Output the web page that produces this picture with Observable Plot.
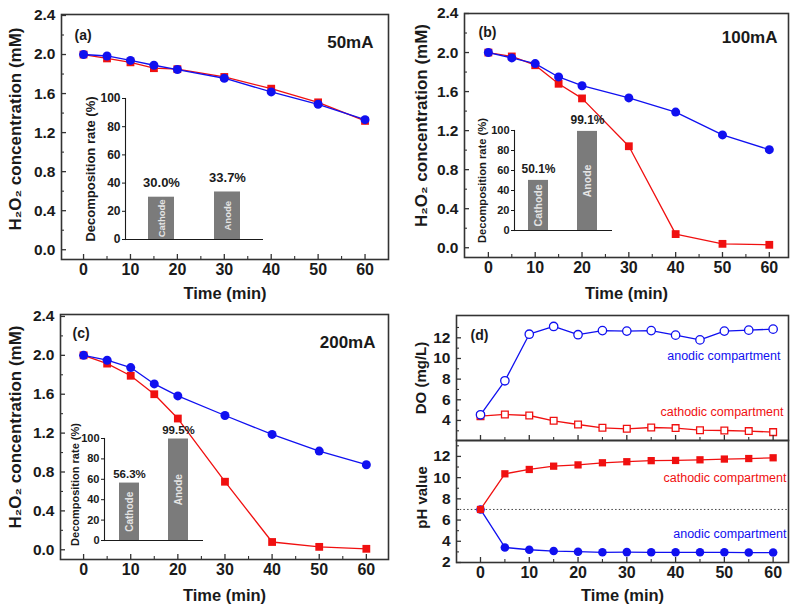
<!DOCTYPE html>
<html><head><meta charset="utf-8">
<script src="https://cdn.jsdelivr.net/npm/d3@7"></script>
<script src="https://cdn.jsdelivr.net/npm/@observablehq/plot@0.6"></script>
<style>
body{margin:0;background:#fff}
#root{position:relative;width:800px;height:610px;overflow:hidden;background:#fff}
</style></head><body><div id="root"></div>
<script>
// ---------- data ----------
const timeH2O2 = [0, 5, 10, 15, 20, 30, 40, 50, 60];
const aSquare = [2.0, 1.96, 1.92, 1.86, 1.85, 1.77, 1.65, 1.51, 1.32];
const aCircle = [2.0, 1.985, 1.94, 1.89, 1.846, 1.757, 1.617, 1.49, 1.333];
const bSquare = [2.0, 1.96, 1.87, 1.68, 1.53, 1.04, 0.14, 0.04, 0.03];
const bCircle = [2.0, 1.945, 1.887, 1.75, 1.66, 1.535, 1.39, 1.156, 1.005];
const cSquare = [2.0, 1.915, 1.79, 1.6, 1.35, 0.70, 0.08, 0.03, 0.01];
const cCircle = [2.0, 1.95, 1.874, 1.706, 1.583, 1.381, 1.187, 1.015, 0.875];

const insetCats = ["Cathode", "Anode"];
const insetA = [30.0, 33.7];
const insetB = [50.1, 99.1];
const insetC = [56.3, 99.5];

const timeD = [0, 5, 10, 15, 20, 25, 30, 35, 40, 45, 50, 55, 60];
const doAnodic = [4.55, 7.84, 12.35, 13.1, 12.3, 12.7, 12.65, 12.7, 12.26, 11.8, 12.65, 12.74, 12.84];
const doCathodic = [4.42, 4.58, 4.48, 3.97, 3.61, 3.29, 3.19, 3.32, 3.26, 3.06, 3.03, 2.97, 2.87];
const phCathodic = [7.0, 10.36, 10.77, 11.08, 11.2, 11.4, 11.5, 11.6, 11.62, 11.68, 11.75, 11.8, 11.87];
const phAnodic = [7.0, 3.42, 3.2, 3.08, 3.02, 2.96, 2.98, 2.96, 2.96, 2.96, 2.96, 2.94, 2.94];
const phNeutral = [7];

const xTicks = [0, 10, 20, 30, 40, 50, 60];
const xMinor = [5, 15, 25, 35, 45, 55];
const yTicksH = [0, 0.4, 0.8, 1.2, 1.6, 2.0, 2.4];
const yMinorH = [0.2, 0.6, 1.0, 1.4, 1.8, 2.2];
const yTicksDO = [4, 6, 8, 10, 12];
const yMinorDO = [3, 5, 7, 9, 11, 13];
const yTicksPH = [2, 4, 6, 8, 10, 12];
const yMinorPH = [3, 5, 7, 9, 11, 13];
const insetTicks = [0, 20, 40, 60, 80, 100];

const xLabel = "Time (min)";
const yLabelH = "H\u2082O\u2082 concentration (mM)";
const insetLabel = "Decomposition rate (%)";
const doLabel = "DO (mg/L)";
const phLabel = "pH value";
const anodicText = "anodic compartment";
const cathodicText = "cathodic compartment";

// ---------- styling ----------
const FONT = "'Liberation Sans', Arial, Helvetica, sans-serif";
const INK = "#1a1a1a";
const FRAME = "#333";
const RED = "#f01010";
const BLUE = "#1010f0";
const GRAY = "#7b7b7b";
const XTICK = 16, YTICK = 15.5;

const root = document.getElementById("root");
function put(el, left, top) {
  el.style.position = "absolute";
  el.style.left = left + "px";
  el.style.top = top + "px";
  root.appendChild(el);
}
const rows = (t, v) => t.map((x, i) => ({t: x, v: v[i]}));

// text anchored on the frame, centred on its point unless told otherwise
function label(str, frameAnchor, opts) {
  return Plot.text([str], {frameAnchor, text: d => d, textAnchor: "middle", lineAnchor: "middle", fontWeight: "bold", fill: INK, ...opts});
}

function tickMarks(xMaj, xMin, yMaj, yMin, plotW, plotH, showX = true) {
  const m = [];
  if (showX) {
    m.push(Plot.tickX(xMaj, {x: d => d, insetTop: plotH - 5, stroke: FRAME, strokeWidth: 1.3}));
    m.push(Plot.tickX(xMin, {x: d => d, insetTop: plotH - 3, stroke: FRAME, strokeWidth: 1.1}));
  }
  m.push(Plot.tickY(yMaj, {y: d => d, insetRight: plotW - 5, stroke: FRAME, strokeWidth: 1.3}));
  m.push(Plot.tickY(yMin, {y: d => d, insetRight: plotW - 3, stroke: FRAME, strokeWidth: 1.1}));
  return m;
}

function h2o2Panel(p) {
  const plotW = p.width - p.mL - p.mR, plotH = p.height - p.mT - p.mB;
  const sq = rows(timeH2O2, p.sq), ci = rows(timeH2O2, p.ci);
  return Plot.plot({
    width: p.width, height: p.height,
    marginLeft: p.mL, marginRight: p.mR, marginTop: p.mT, marginBottom: p.mB,
    style: {fontFamily: FONT, background: "transparent", overflow: "visible", color: INK},
    x: {domain: p.xDomain},
    y: {domain: p.yDomain},
    marks: [
      Plot.line(sq, {x: "t", y: "v", stroke: RED, strokeWidth: 1.3}),
      Plot.line(ci, {x: "t", y: "v", stroke: BLUE, strokeWidth: 1.3}),
      Plot.dot(sq, {x: "t", y: "v", symbol: "square", fill: RED, r: 4.4}),
      Plot.dot(ci, {x: "t", y: "v", symbol: "circle", fill: BLUE, r: 4.5}),
      ...tickMarks(xTicks, xMinor, yTicksH, yMinorH, plotW, plotH),
      Plot.axisX(xTicks, {tickSize: 0, tickPadding: 4, fontSize: XTICK, fontWeight: "bold", fill: INK, label: null}),
      Plot.axisY(yTicksH, {tickSize: 0, tickPadding: 6, fontSize: YTICK, fontWeight: "bold", fill: INK, tickFormat: d3.format(".1f"), label: null}),
      Plot.frame({stroke: FRAME, strokeWidth: 1.6}),
      label(xLabel, "bottom", {dy: p.xLabDy, fontSize: 16.5}),
      label(yLabelH, "left", {rotate: -90, dx: p.yLabDx, dy: p.yLabDy, fontSize: 17}),
      label(p.tag, "top-left", {textAnchor: "start", dx: p.tagDx, dy: p.tagDy, fontSize: 14}),
      label(p.current, "top-right", {textAnchor: "end", dx: p.curDx, dy: p.curDy, fontSize: 17})
    ]
  });
}

function insetPanel(p) {
  const data = insetCats.map((c, i) => ({cat: c, v: p.values[i]}));
  return Plot.plot({
    width: p.width, height: p.height,
    marginLeft: p.mL, marginRight: p.mR, marginTop: p.mT, marginBottom: p.mB,
    style: {fontFamily: FONT, background: "transparent", overflow: "visible", color: INK},
    x: {type: "band", domain: insetCats, paddingInner: p.pIn, paddingOuter: p.pOut, axis: null},
    y: {domain: [0, 100]},
    marks: [
      Plot.barY(data, {x: "cat", y: "v", fill: GRAY}),
      Plot.text(data, {x: "cat", y: d => d.v / 2, text: "cat", rotate: -90, fill: "#e4e4e4", fontSize: p.catSize, fontWeight: "bold"}),
      Plot.text(data, {x: "cat", y: "v", text: d => d.v.toFixed(1) + "%", dy: p.valDy, fontSize: p.valSize, fontWeight: "bold", fill: INK}),
      Plot.axisY(insetTicks, {tickSize: 3, tickPadding: 2, fontSize: p.tickSize, fontWeight: "bold", fill: INK, stroke: INK, label: null}),
      Plot.ruleY([0], {stroke: INK, strokeWidth: 1.1}),
      Plot.frame({anchor: "left", stroke: INK, strokeWidth: 1.1}),
      label(insetLabel, "left", {rotate: -90, dx: p.labDx, dy: p.labDy, fontSize: p.labSize})
    ]
  });
}

// ---------- panels a, b, c ----------
put(h2o2Panel({width: 400, height: 305, mL: 61, mR: 12, mT: 14, mB: 46,
  xDomain: [-4.7, 65], yDomain: [-0.1, 2.41], sq: aSquare, ci: aCircle,
  xLabDy: 34, yLabDx: -46, yLabDy: -8, tag: "(a)", tagDx: 13, tagDy: 21, current: "50mA", curDx: -15, curDy: 28}), 0, 0);

put(h2o2Panel({width: 400, height: 305, mL: 64, mR: 12, mT: 13, mB: 48,
  xDomain: [-5.1, 64.1], yDomain: [-0.1, 2.4], sq: bSquare, ci: bCircle,
  xLabDy: 36, yLabDx: -43, yLabDy: -10, tag: "(b)", tagDx: 14, tagDy: 19, current: "100mA", curDx: -11, curDy: 24}), 400, 0);

put(h2o2Panel({width: 400, height: 310, mL: 60, mR: 12, mT: 14, mB: 51,
  xDomain: [-4.9, 64.7], yDomain: [-0.1, 2.42], sq: cSquare, ci: cCircle,
  xLabDy: 36, yLabDx: -45, yLabDy: -10, tag: "(c)", tagDx: 12, tagDy: 19, current: "200mA", curDx: -13, curDy: 28}), 0, 300);

// ---------- insets ----------
put(insetPanel({width: 200, height: 165, mL: 55, mR: 7, mT: 13, mB: 11, values: insetA,
  pIn: 0.6, pOut: 0.33, catSize: 9.5, valSize: 13, valDy: -14, tickSize: 12, labDx: -35, labDy: 0, labSize: 13}), 70, 85);

put(insetPanel({width: 147, height: 140, mL: 44, mR: 5, mT: 30, mB: 10, values: insetB,
  pIn: 0.59, pOut: 0.29, catSize: 10.5, valSize: 12, valDy: -11, tickSize: 11, labDx: -32, labDy: 0, labSize: 11.2}), 470, 100);

put(insetPanel({width: 147, height: 145, mL: 44, mR: 4, mT: 33, mB: 10, values: insetC,
  pIn: 0.59, pOut: 0.29, catSize: 10, valSize: 11.5, valDy: -9, tickSize: 11, labDx: -29, labDy: -5, labSize: 11}), 60, 405);

// ---------- panel d ----------
const xDomainD = [-4.92, 63.15];
{
  const W = 400, H = 141, mL = 56, mR = 12, mT = 15, mB = 1;
  const plotW = W - mL - mR, plotH = H - mT - mB;
  const an = rows(timeD, doAnodic), ca = rows(timeD, doCathodic);
  put(Plot.plot({
    width: W, height: H, marginLeft: mL, marginRight: mR, marginTop: mT, marginBottom: mB,
    style: {fontFamily: FONT, background: "transparent", overflow: "visible", color: INK},
    x: {domain: xDomainD, axis: null},
    y: {domain: [2.06, 14.16]},
    marks: [
      Plot.line(ca, {x: "t", y: "v", stroke: RED, strokeWidth: 1.3}),
      Plot.line(an, {x: "t", y: "v", stroke: BLUE, strokeWidth: 1.3}),
      Plot.dot(ca, {x: "t", y: "v", symbol: "square", fill: "white", stroke: RED, strokeWidth: 1.3, r: 3.8}),
      Plot.dot(an, {x: "t", y: "v", symbol: "circle", fill: "white", stroke: BLUE, strokeWidth: 1.3, r: 4.2}),
      ...tickMarks(xTicks, xMinor, yTicksDO, yMinorDO, plotW, plotH),
      Plot.axisY(yTicksDO, {tickSize: 0, tickPadding: 6, fontSize: YTICK, fontWeight: "bold", fill: INK, label: null}),
      Plot.frame({stroke: FRAME, strokeWidth: 1.6}),
      label(doLabel, "left", {rotate: -90, dx: -35, fontSize: 15}),
      label("(d)", "top-left", {textAnchor: "start", dx: 14, dy: 20, fontSize: 14}),
      label(anodicText, "top-right", {textAnchor: "end", dx: -8, dy: 40, fontSize: 12.5, fontWeight: "normal", fill: BLUE}),
      label(cathodicText, "top-right", {textAnchor: "end", dx: -5, dy: 96, fontSize: 12.5, fontWeight: "normal", fill: RED})
    ]
  }), 400, 300);
}
{
  const W = 400, H = 170, mL = 56, mR = 12, mT = 0, mB = 48;
  const plotW = W - mL - mR, plotH = H - mT - mB;
  const an = rows(timeD, phAnodic), ca = rows(timeD, phCathodic);
  put(Plot.plot({
    width: W, height: H, marginLeft: mL, marginRight: mR, marginTop: mT, marginBottom: mB,
    style: {fontFamily: FONT, background: "transparent", overflow: "visible", color: INK},
    x: {domain: xDomainD},
    y: {domain: [2, 13.5]},
    marks: [
      Plot.ruleY(phNeutral, {stroke: "#444", strokeWidth: 1, strokeDasharray: "1.5,2.2"}),
      Plot.line(an, {x: "t", y: "v", stroke: BLUE, strokeWidth: 1.3}),
      Plot.line(ca, {x: "t", y: "v", stroke: RED, strokeWidth: 1.3}),
      Plot.dot(an, {x: "t", y: "v", symbol: "circle", fill: BLUE, r: 4.3}),
      Plot.dot(ca, {x: "t", y: "v", symbol: "square", fill: RED, r: 4.1}),
      ...tickMarks(xTicks, xMinor, yTicksPH, yMinorPH, plotW, plotH),
      Plot.axisX(xTicks, {tickSize: 0, tickPadding: 4, fontSize: XTICK, fontWeight: "bold", fill: INK, label: null}),
      Plot.axisY(yTicksPH, {tickSize: 0, tickPadding: 6, fontSize: YTICK, fontWeight: "bold", fill: INK, label: null}),
      Plot.frame({stroke: FRAME, strokeWidth: 1.6}),
      label(xLabel, "bottom", {dy: 33, fontSize: 16.5}),
      label(phLabel, "left", {rotate: -90, dx: -34, dy: -4, fontSize: 15}),
      label(cathodicText, "top-right", {textAnchor: "end", dx: -2, dy: 37, fontSize: 12.5, fontWeight: "normal", fill: RED}),
      label(anodicText, "top-right", {textAnchor: "end", dx: -2, dy: 93, fontSize: 12.5, fontWeight: "normal", fill: BLUE})
    ]
  }), 400, 440);
}
</script></body></html>
